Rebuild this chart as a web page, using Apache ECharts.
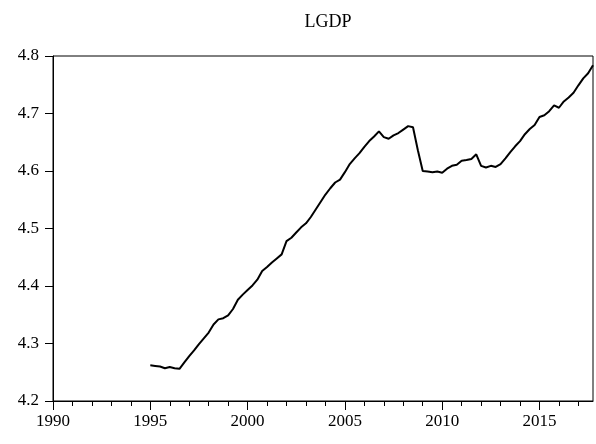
<!DOCTYPE html>
<html>
<head>
<meta charset="utf-8">
<script src="https://cdn.jsdelivr.net/npm/echarts@6/dist/echarts.min.js"></script>
<style>
  html, body { margin: 0; padding: 0; background: #fff; }
  #chart { width: 596px; height: 444px; }
</style>
</head>
<body>
<div id="chart"></div>
<script>
// quarterly series, first observation 1995Q1
const startYear = 1995;
const lgdp = [
  4.262, 4.261, 4.260, 4.257, 4.259, 4.257, 4.256, 4.267,
  4.278, 4.288, 4.299, 4.309, 4.319, 4.333, 4.342, 4.344,
  4.349, 4.360, 4.376, 4.385, 4.393, 4.401, 4.411, 4.426,
  4.433, 4.441, 4.448, 4.455, 4.478, 4.484, 4.493, 4.502,
  4.509, 4.520, 4.533, 4.546, 4.559, 4.570, 4.580, 4.585,
  4.598, 4.612, 4.622, 4.631, 4.642, 4.652, 4.660, 4.669,
  4.659, 4.656, 4.662, 4.666, 4.672, 4.678, 4.676, 4.636,
  4.600, 4.599, 4.598, 4.599, 4.597, 4.604, 4.609, 4.611,
  4.618, 4.619, 4.621, 4.629, 4.609, 4.606, 4.609, 4.607,
  4.612, 4.622, 4.633, 4.643, 4.652, 4.664, 4.673, 4.680,
  4.694, 4.697, 4.704, 4.714, 4.710, 4.721, 4.728, 4.736,
  4.749, 4.761, 4.770, 4.784
];

const majorYears = [1990, 1995, 2000, 2005, 2010, 2015];
const minorYears = [1991, 1992, 1993, 1994, 1996, 1997, 1998, 1999, 2001, 2002, 2003, 2004,
  2006, 2007, 2008, 2009, 2011, 2012, 2013, 2014, 2016, 2017];
const yTicks = [4.2, 4.3, 4.4, 4.5, 4.6, 4.7, 4.8];

const chart = echarts.init(document.getElementById('chart'));

const points = lgdp.map((v, i) => [startYear + i / 4, v]);
const font = 'Liberation Serif';

const options = {
  animation: false,
  title: {
    text: 'LGDP',
    left: 323,
    top: 8,
    textAlign: 'center',
    textStyle: { fontFamily: font, fontSize: 18, fontWeight: 'normal', color: '#000' }
  },
  grid: {
    left: 53,
    right: 3,
    top: 56,
    bottom: 43,
    show: true,
    borderColor: '#000',
    borderWidth: 1
  },
  xAxis: [
    {
      type: 'value',
      min: 1990,
      max: 2017.75,
      interval: 5,
      splitLine: { show: false },
      axisLine: { show: true, lineStyle: { color: '#000', width: 1 } },
      axisTick: { show: true, length: 9, customValues: majorYears, lineStyle: { color: '#000' } },
      axisLabel: {
        customValues: majorYears,
        margin: 12,
        color: '#000',
        fontFamily: font,
        fontSize: 17,
        formatter: v => String(v)
      }
    },
    {
      // minor yearly ticks
      type: 'value',
      position: 'bottom',
      min: 1990,
      max: 2017.75,
      splitLine: { show: false },
      axisLine: { show: false },
      axisTick: { show: true, length: 5, customValues: minorYears, lineStyle: { color: '#000' } },
      axisLabel: { show: false }
    }
  ],
  yAxis: {
    type: 'value',
    min: 4.2,
    max: 4.8,
    interval: 0.1,
    splitLine: { show: false },
    axisLine: { show: true, lineStyle: { color: '#000', width: 1 } },
    axisTick: { show: true, length: 8, customValues: yTicks, lineStyle: { color: '#000' } },
    axisLabel: {
      customValues: yTicks,
      margin: 14,
      color: '#000',
      fontFamily: font,
      fontSize: 17,
      formatter: v => v.toFixed(1)
    }
  },
  series: [
    {
      type: 'line',
      name: 'LGDP',
      data: points,
      xAxisIndex: 0,
      showSymbol: false,
      lineStyle: { color: '#000', width: 2 }
    }
  ]
};

chart.setOption(options);
</script>
</body>
</html>
